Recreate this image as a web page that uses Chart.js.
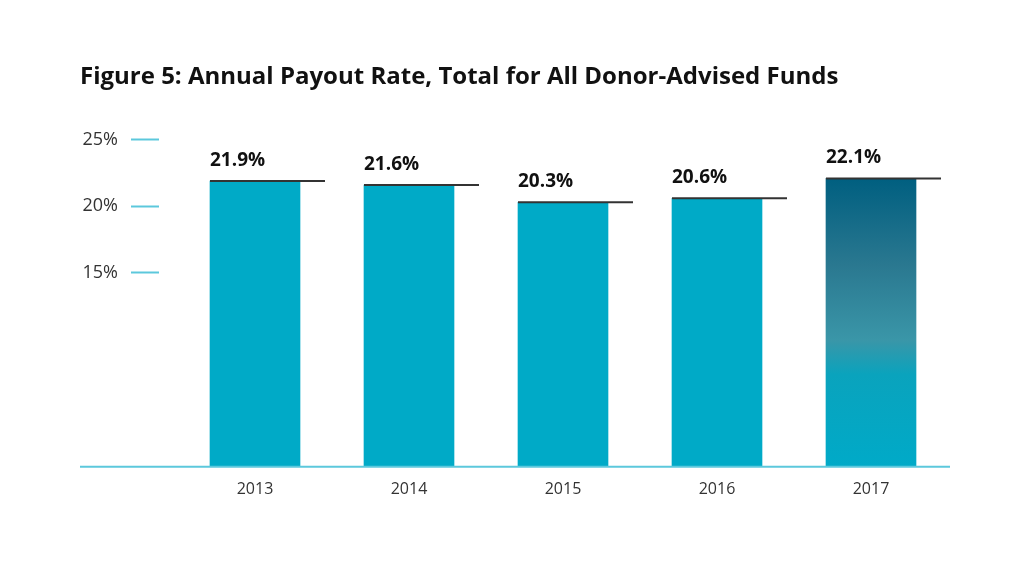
<!DOCTYPE html>
<html>
<head>
<meta charset="utf-8">
<script src="https://cdn.jsdelivr.net/npm/chart.js@4/dist/chart.umd.min.js"></script>
<style>
  html, body { margin: 0; padding: 0; background: #ffffff; }
  #wrap { width: 1024px; height: 565px; }
</style>
</head>
<body>
<div id="wrap"><canvas id="c" width="1024" height="565"></canvas></div>
<script>
const titleText = "Figure 5: Annual Payout Rate, Total for All Donor-Advised Funds";
const categories = ["2013", "2014", "2015", "2016", "2017"];
const payoutRate = [21.9, 21.6, 20.3, 20.6, 22.1];
const yTickValues = [15, 20, 25];

const barColor = "#00aac7";
const axisColor = "#5cc8dc";

function barFill(ctx) {
  if (ctx.type !== "data") return barColor;
  if (ctx.dataIndex !== categories.length - 1) return barColor;
  const chart = ctx.chart;
  const ys = chart.scales && chart.scales.y;
  if (!chart.chartArea || !ys) return barColor;
  const top = ys.getPixelForValue(ctx.raw);
  const bottom = chart.chartArea.bottom;
  const g = chart.ctx.createLinearGradient(0, top, 0, bottom);
  g.addColorStop(0, "#005f80");
  g.addColorStop(0.3, "#2a7890");
  g.addColorStop(0.56, "#3a96a8");
  g.addColorStop(0.68, "#0aa3bd");
  g.addColorStop(1, "#00aac8");
  return g;
}

const decorPlugin = {
  id: "decor",
  afterDatasetsDraw(chart) {
    const ctx = chart.ctx;
    const meta = chart.getDatasetMeta(0);
    const ys = chart.scales.y;
    ctx.save();
    ctx.strokeStyle = axisColor;
    ctx.lineWidth = 2;
    ctx.beginPath();
    ctx.moveTo(ys.left, chart.chartArea.bottom);
    ctx.lineTo(chart.chartArea.right + 2, chart.chartArea.bottom);
    ctx.stroke();
    meta.data.forEach((el, i) => {
      const left = el.x - el.width / 2;
      const right = el.x + el.width / 2;
      ctx.strokeStyle = "#333333";
      ctx.lineWidth = 2;
      ctx.beginPath();
      ctx.moveTo(left, el.y);
      ctx.lineTo(right + 25, el.y);
      ctx.stroke();
      ctx.fillStyle = "#111111";
      ctx.font = "bold 19px 'Open Sans', sans-serif";
      ctx.textAlign = "left";
      ctx.textBaseline = "alphabetic";
      ctx.fillText(payoutRate[i].toFixed(1) + "%", left, el.y - 15);
    });
    ctx.restore();
  }
};

new Chart(document.getElementById("c"), {
  type: "bar",
  data: {
    labels: categories,
    datasets: [{
      data: payoutRate,
      backgroundColor: barFill,
      borderWidth: 0,
      barThickness: 90
    }]
  },
  plugins: [decorPlugin],
  options: {
    responsive: false,
    animation: false,
    layout: { padding: { left: 80, right: 76, top: 0, bottom: 53 } },
    plugins: {
      legend: { display: false },
      tooltip: { enabled: false },
      title: {
        display: true,
        text: titleText,
        align: "start",
        color: "#111111",
        font: { family: "'Open Sans', sans-serif", size: 24, weight: "bold" },
        padding: { top: 63, bottom: 48 }
      }
    },
    scales: {
      x: {
        grid: { display: false, drawTicks: false },
        border: { display: false },
        ticks: {
          color: "#333333",
          padding: 13,
          font: { family: "'Open Sans', sans-serif", size: 16 }
        }
      },
      y: {
        min: 0.43,
        max: 25,
        afterBuildTicks(scale) {
          scale.ticks = yTickValues.map(v => ({ value: v }));
        },
        afterFit(scale) { scale.width = 98; },
        grid: {
          display: true,
          drawOnChartArea: false,
          drawTicks: true,
          tickLength: 47,
          tickColor: axisColor,
          tickWidth: 2,
          tickBorderDash: [28, 60]
        },
        border: { display: false },
        ticks: {
          color: "#333333",
          padding: 13,
          font: { family: "'Open Sans', sans-serif", size: 18 },
          callback: v => v + "%"
        }
      }
    }
  }
});
</script>
</body>
</html>
